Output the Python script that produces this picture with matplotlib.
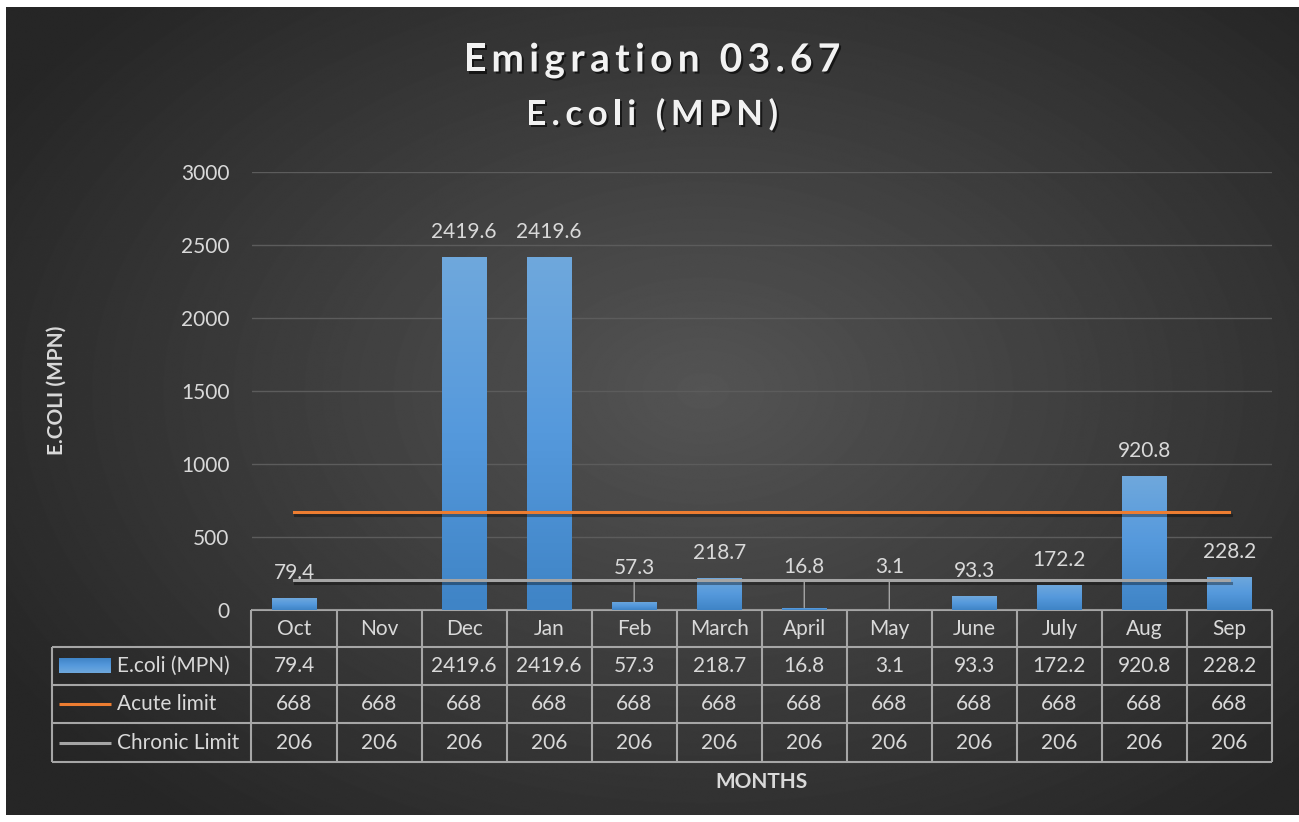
import numpy as np
import matplotlib
matplotlib.use('Agg')
import matplotlib.pyplot as plt
import matplotlib.patheffects as pe
from matplotlib.colors import LinearSegmentedColormap

months = ['Oct', 'Nov', 'Dec', 'Jan', 'Feb', 'March', 'April', 'May', 'June', 'July', 'Aug', 'Sep']
ecoli = [79.4, np.nan, 2419.6, 2419.6, 57.3, 218.7, 16.8, 3.1, 93.3, 172.2, 920.8, 228.2]
acute = [668] * 12
chronic = [206] * 12
yticks = [0, 500, 1000, 1500, 2000, 2500, 3000]
series_names = ['E.coli (MPN)', 'Acute limit', 'Chronic Limit']
# labels that excel pushed up and tied back with a leader line (extra px)
lifted = {'Feb': 9, 'April': 16, 'May': 18}

W, H = 1299, 822
plt.rcParams['font.family'] = ['Lato', 'DejaVu Sans']
txt = '#d9d9d9'
grid_c = '#a6a6a6'
fs = 15
blue_map = LinearSegmentedColormap.from_list('bar', ['#3f84c6', '#5599dc', '#6fa8dc'])

fig = plt.figure(figsize=(W / 100, H / 100), dpi=100)
fig.patch.set_facecolor('white')

# background panel, radial dark gradient
bg = fig.add_axes([0, 0, 1, 1])
bg.axis('off')
yy, xx = np.mgrid[0:H, 0:W]
r = np.sqrt(((xx - 700) / 820.) ** 2 + ((yy - 390) / 560.) ** 2)
shade = 0.33 - 0.18 * np.clip(r, 0, 1)
bg.imshow(shade, cmap='gray', vmin=0, vmax=1, extent=(6, W, 815, 8), aspect='auto', zorder=0)
bg.set_xlim(0, W); bg.set_ylim(H, 0)

# plot area
ax = fig.add_axes([251.5 / W, (H - 610) / H, (1272 - 251.5) / W, (610 - 172) / H])
ax.patch.set_alpha(0)
x = np.arange(len(months))
bars = ax.bar(x, np.nan_to_num(ecoli), width=0.52, color='#5b9bd5', zorder=2)
grad = np.linspace(0, 1, 100).reshape(-1, 1)
for b, v in zip(bars, ecoli):
    if np.isnan(v):
        continue
    im = ax.imshow(grad, cmap=blue_map, origin='lower', aspect='auto', zorder=2,
                   extent=(b.get_x(), b.get_x() + b.get_width(), 0, v))
    im.set_clip_path(b)

shadow = [pe.SimpleLineShadow(offset=(1, -2), alpha=0.35), pe.Normal()]
ax.plot(x, acute, color='#ed7d31', lw=2.2, zorder=3, path_effects=shadow)
ax.plot(x, chronic, color='#a5a5a5', lw=2.2, zorder=3, path_effects=shadow)

for i, v in enumerate(ecoli):
    if np.isnan(v):
        continue
    lift = 25 + lifted.get(months[i], 0)
    kw = {}
    if months[i] in lifted:
        kw['arrowprops'] = dict(arrowstyle='-', color='#a5a5a5', lw=1, shrinkA=1, shrinkB=0)
    ax.annotate(f'{v}', (i, v), xytext=(0, lift * 0.72), textcoords='offset points',
                ha='center', va='center', color=txt, fontsize=fs, zorder=4, **kw)

ax.set_xlim(-0.5, 11.5)
ax.set_ylim(0, 3000)
ax.set_yticks(yticks)
ax.set_xticks([])
ax.grid(axis='y', color='#5c5c5c', lw=1)
ax.set_axisbelow(True)
ax.tick_params(axis='y', colors=txt, length=0, labelsize=fs, pad=16)
for s in ax.spines.values():
    s.set_visible(False)

# data table under the plot
xe = [ax.transData.transform((i - 0.5, 0))[0] for i in range(len(months) + 1)]
rows = [610, 647, 685, 723, 762]
bg.hlines(rows[0], xe[0], xe[-1], color=grid_c, lw=1.5, zorder=5)
bg.hlines(rows[1:], 52, xe[-1], color=grid_c, lw=1.5, zorder=5)
bg.vlines(xe, rows[0], rows[-1], color=grid_c, lw=1.5, zorder=5)
bg.vlines(52, rows[1], rows[-1], color=grid_c, lw=1.5, zorder=5)

cx = [(xe[i] + xe[i + 1]) / 2 for i in range(len(months))]
table_vals = [['' if np.isnan(v) else f'{v}' for v in ecoli],
              [str(v) for v in acute], [str(v) for v in chronic]]
for c, m in zip(cx, months):
    bg.text(c, (rows[0] + rows[1]) / 2, m, ha='center', va='center', color=txt, fontsize=fs)
for k, vals in enumerate(table_vals):
    yc = (rows[k + 1] + rows[k + 2]) / 2
    for c, s in zip(cx, vals):
        bg.text(c, yc, s, ha='center', va='center', color=txt, fontsize=fs)
    bg.text(117, yc, series_names[k], ha='left', va='center', color=txt, fontsize=fs)

y0 = (rows[1] + rows[2]) / 2
bg.imshow(grad, cmap=blue_map, origin='upper', aspect='auto', zorder=5,
          extent=(59, 111, y0 + 7.5, y0 - 7.5))
bg.hlines((rows[2] + rows[3]) / 2, 59, 111, color='#ed7d31', lw=2.2, zorder=5)
bg.hlines((rows[3] + rows[4]) / 2, 59, 111, color='#a5a5a5', lw=2.2, zorder=5)
bg.set_xlim(0, W); bg.set_ylim(H, 0)


def spaced_text(xc, yc, s, gap, **kw):
    # excel title uses expanded character spacing; place glyphs one by one
    rend = fig.canvas.get_renderer()
    ref = bg.text(0, 0, 'nn', **kw)
    nn = ref.get_window_extent(rend).width
    ref.remove()
    parts, widths = [], []
    for ch in s:
        if ch == ' ':
            t = bg.text(0, 0, 'n n', **kw)
            wdt = t.get_window_extent(rend).width - nn
            t.remove()
            parts.append(None)
        else:
            t = bg.text(0, yc, ch, ha='left', va='center', **kw)
            wdt = t.get_window_extent(rend).width
            parts.append(t)
        widths.append(wdt)
    total = sum(widths) + gap * (len(s) - 1)
    pos = xc - total / 2
    for t, wdt in zip(parts, widths):
        if t is not None:
            t.set_x(pos)
        pos += wdt + gap


title_fx = [pe.withSimplePatchShadow(offset=(1.5, -1.5), shadow_rgbFace='black', alpha=0.6)]
spaced_text(652, 60, 'Emigration 03.67', 5.3, color='#f2f2f2', fontsize=28,
            fontweight='bold', path_effects=title_fx)
spaced_text(652, 115, 'E.coli (MPN)', 5.6, color='#f2f2f2', fontsize=25,
            fontweight='bold', path_effects=title_fx)
bg.text(57, 390, 'E.COLI (MPN)', ha='center', va='center', rotation=90, color=txt,
        fontsize=15, fontweight='bold')
bg.text(762, 782, 'MONTHS', ha='center', va='center', color=txt,
        fontsize=15, fontweight='bold')

fig.savefig('out.png', dpi=100, facecolor=fig.get_facecolor())
